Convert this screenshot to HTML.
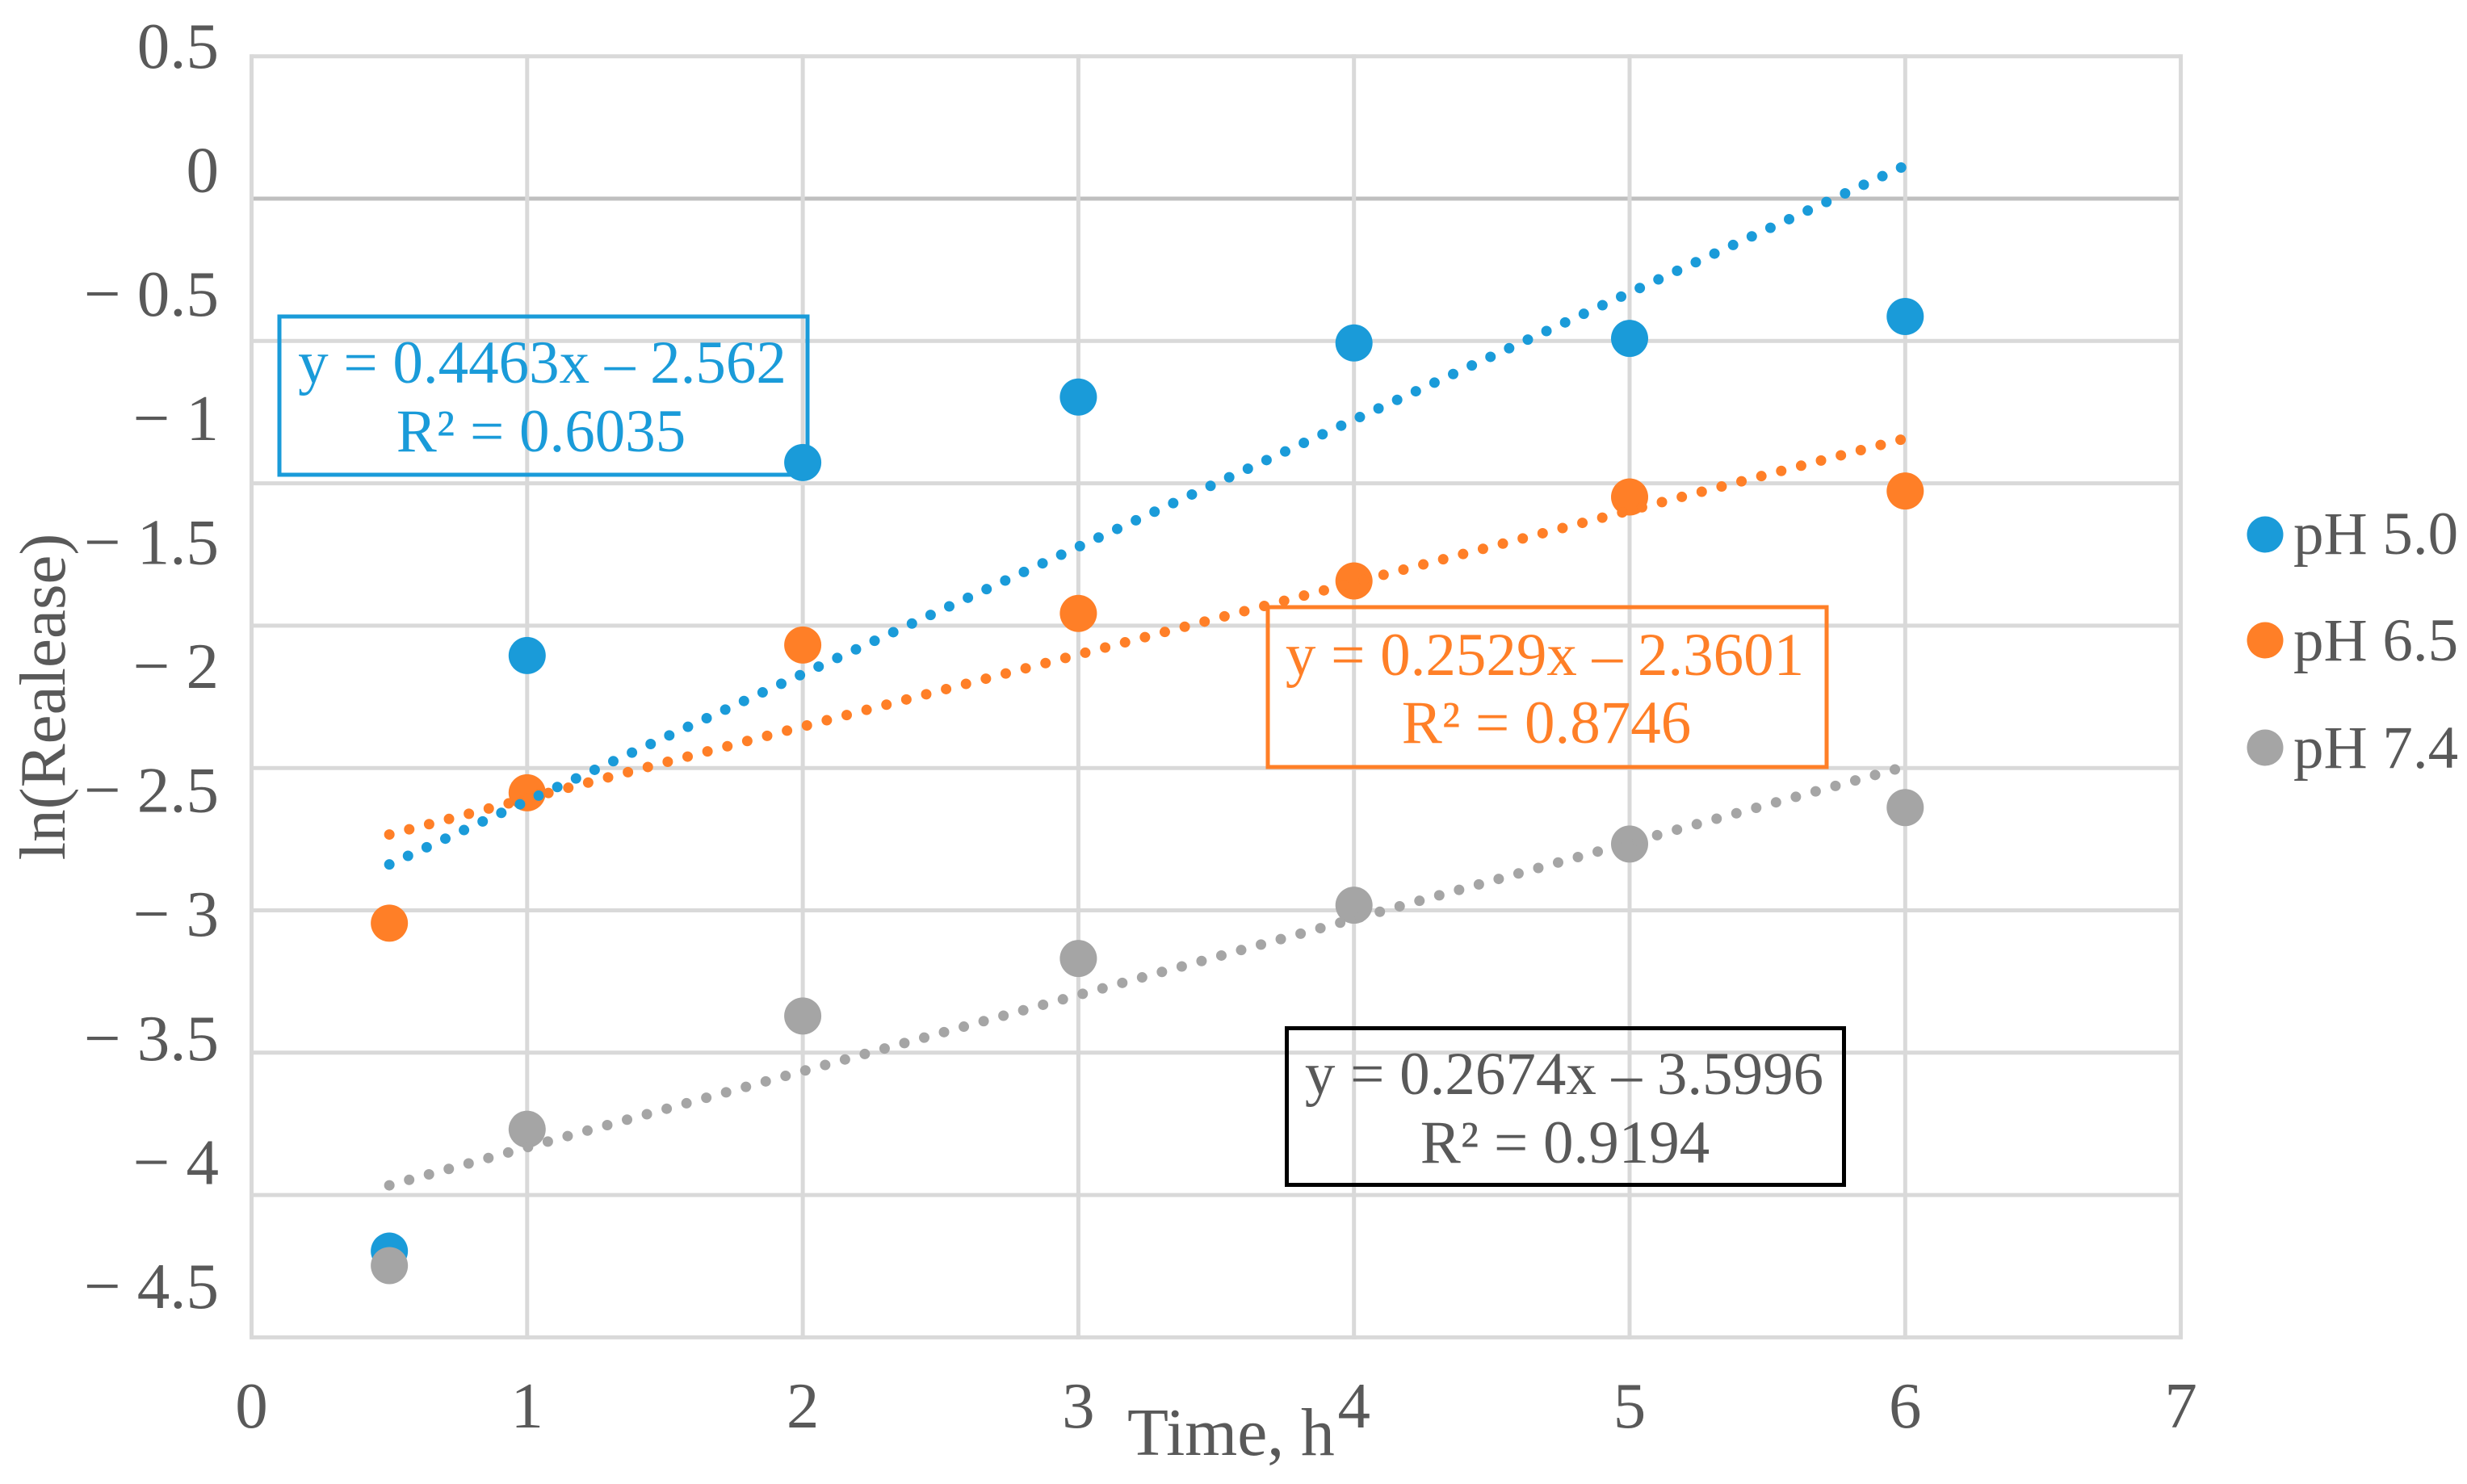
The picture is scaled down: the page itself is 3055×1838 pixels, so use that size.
<!DOCTYPE html>
<html lang="en">
<head>
<meta charset="utf-8">
<title>ln(Release) vs Time</title>
<style>
  html,body{margin:0;padding:0;background:#fff;}
  body{width:3055px;height:1838px;overflow:hidden;}
  svg{display:block;}
  text{font-family:"Liberation Serif",serif;fill:#595959;}
</style>
</head>
<body>
<svg id="chart" xmlns="http://www.w3.org/2000/svg" width="3055" height="1838" viewBox="0 0 3055 1838">
  <rect x="0" y="0" width="3055" height="1838" fill="#ffffff"/>
  <g id="grid"></g>
  <g id="yticks"></g>
  <g id="xticks"></g>
  <g id="points"></g>
  <g id="trends"></g>

  <text x="80" y="863" font-size="81" text-anchor="middle" transform="rotate(-90 80 863)">ln(Realease)</text>
  <text x="1396" y="1802" font-size="83.5">Time, h</text>

  <g>
    <rect x="346" y="392" width="654" height="196" fill="none" stroke="#1a9bd9" stroke-width="5"/>
    <text x="671.5" y="474" font-size="75" text-anchor="middle" style="fill:#1a9bd9">y = 0.4463x – 2.562</text>
    <text x="670" y="559" font-size="75" text-anchor="middle" style="fill:#1a9bd9">R² = 0.6035</text>
  </g>
  <g>
    <rect x="1570" y="752" width="692" height="198" fill="none" stroke="#ff7f27" stroke-width="5"/>
    <text x="1913" y="836" font-size="75" text-anchor="middle" style="fill:#ff7f27">y = 0.2529x – 2.3601</text>
    <text x="1915" y="920" font-size="75" text-anchor="middle" style="fill:#ff7f27">R² = 0.8746</text>
  </g>
  <g>
    <rect x="1593.5" y="1273.5" width="690" height="194" fill="none" stroke="#000000" stroke-width="5"/>
    <text x="1937" y="1355" font-size="75" text-anchor="middle">y = 0.2674x – 3.5996</text>
    <text x="1938" y="1440" font-size="75" text-anchor="middle">R² = 0.9194</text>
  </g>

  <g>
    <g>
      <circle cx="2805" cy="662" r="22.5" fill="#1a9bd9"/>
      <text x="2840" y="686" font-size="75">pH 5.0</text>
    </g>
    <g>
      <circle cx="2805" cy="793" r="22.5" fill="#ff7f27"/>
      <text x="2840" y="818" font-size="75">pH 6.5</text>
    </g>
    <g>
      <circle cx="2805" cy="926" r="22.5" fill="#a5a5a5"/>
      <text x="2840" y="951" font-size="75">pH 7.4</text>
    </g>
  </g>
</svg>
<script>
// Chart data
const times = [0.5, 1, 2, 3, 4, 5, 6];
const ph50Values = [-3.697, -1.605, -0.927, -0.697, -0.507, -0.491, -0.414];
const ph65Values = [-2.545, -2.087, -1.568, -1.457, -1.343, -1.048, -1.027];
const ph74Values = [-3.748, -3.269, -2.871, -2.669, -2.482, -2.267, -2.139];
const trendSlopes = [0.4463, 0.2529, 0.2674];
const trendIntercepts = [-2.562, -2.3601, -3.5996];
const trendRange = [0.5, 6];
const xTickValues = [0, 1, 2, 3, 4, 5, 6, 7];
const gridValues = [0.5, 0, -0.5, -1, -1.5, -2, -2.5, -3, -3.5, -4];
const yTickValues = [0.5, 0, -0.5, -1, -1.5, -2, -2.5, -3, -3.5, -4, -4.5];
const yTickLabels = ['0.5', '0', '− 0.5', '− 1', '− 1.5', '− 2', '− 2.5', '− 3', '− 3.5', '− 4', '− 4.5'];
const seriesKeys = ['ph-5-0', 'ph-6-5', 'ph-7-4'];

const NS = 'http://www.w3.org/2000/svg';
const seriesValues = [ph50Values, ph65Values, ph74Values];
const seriesColors = ['#1a9bd9', '#ff7f27', '#a5a5a5'];

// Axis functions
function xPos(v) { return 311.5 + v * 341.3; }
function yPos(v) { return 69.7 + (0.5 - v) * 352.6; }
// The printed y labels sit on their own, tighter spacing than the gridlines.
function yLabelBaseline(v) { return 84 + (0.5 - v) * 307.2; }

const gridGroup = document.getElementById('grid');
gridValues.forEach(function (v) {
  const el = document.createElementNS(NS, 'line');
  
  
  el.setAttribute('x1', xPos(0));
  el.setAttribute('x2', xPos(7));
  el.setAttribute('y1', yPos(v));
  el.setAttribute('y2', yPos(v));
  el.setAttribute('stroke', v === 0 ? '#bfbfbf' : '#d9d9d9');
  el.setAttribute('stroke-width', '5');
  gridGroup.appendChild(el);
});
xTickValues.forEach(function (v) {
  const el = document.createElementNS(NS, 'line');
  
  
  el.setAttribute('x1', xPos(v));
  el.setAttribute('x2', xPos(v));
  el.setAttribute('y1', yPos(0.5) - 2.5);
  el.setAttribute('y2', yPos(-4) + 2.5);
  el.setAttribute('stroke', '#d9d9d9');
  el.setAttribute('stroke-width', '5');
  gridGroup.appendChild(el);
});

const yTickGroup = document.getElementById('yticks');
yTickValues.forEach(function (v, i) {
  const el = document.createElementNS(NS, 'text');
  
  
  el.setAttribute('x', 271);
  el.setAttribute('y', yLabelBaseline(v));
  el.setAttribute('font-size', '81');
  el.setAttribute('text-anchor', 'end');
  el.textContent = yTickLabels[i];
  yTickGroup.appendChild(el);
});

const xTickGroup = document.getElementById('xticks');
xTickValues.forEach(function (v) {
  const el = document.createElementNS(NS, 'text');
  
  
  el.setAttribute('x', xPos(v));
  el.setAttribute('y', 1768);
  el.setAttribute('font-size', '81');
  el.setAttribute('text-anchor', 'middle');
  el.textContent = String(v);
  xTickGroup.appendChild(el);
});

const pointGroup = document.getElementById('points');
seriesValues.forEach(function (values, s) {
  values.forEach(function (v, i) {
    const el = document.createElementNS(NS, 'circle');
    
    
    el.setAttribute('cx', xPos(times[i]));
    el.setAttribute('cy', yPos(v));
    el.setAttribute('r', '23');
    el.setAttribute('fill', seriesColors[s]);
    pointGroup.appendChild(el);
  });
});

const trendGroup = document.getElementById('trends');
trendSlopes.forEach(function (m, s) {
  const b = trendIntercepts[s];
  const el = document.createElementNS(NS, 'line');
  
  
  el.setAttribute('x1', xPos(trendRange[0]));
  el.setAttribute('y1', yPos(m * trendRange[0] + b));
  el.setAttribute('x2', xPos(trendRange[1]));
  el.setAttribute('y2', yPos(m * trendRange[1] + b));
  el.setAttribute('stroke', seriesColors[s]);
  el.setAttribute('stroke-width', '13');
  el.setAttribute('stroke-linecap', 'round');
  el.setAttribute('stroke-dasharray', '0 25.45');
  trendGroup.appendChild(el);
});
</script>
</body>
</html>
